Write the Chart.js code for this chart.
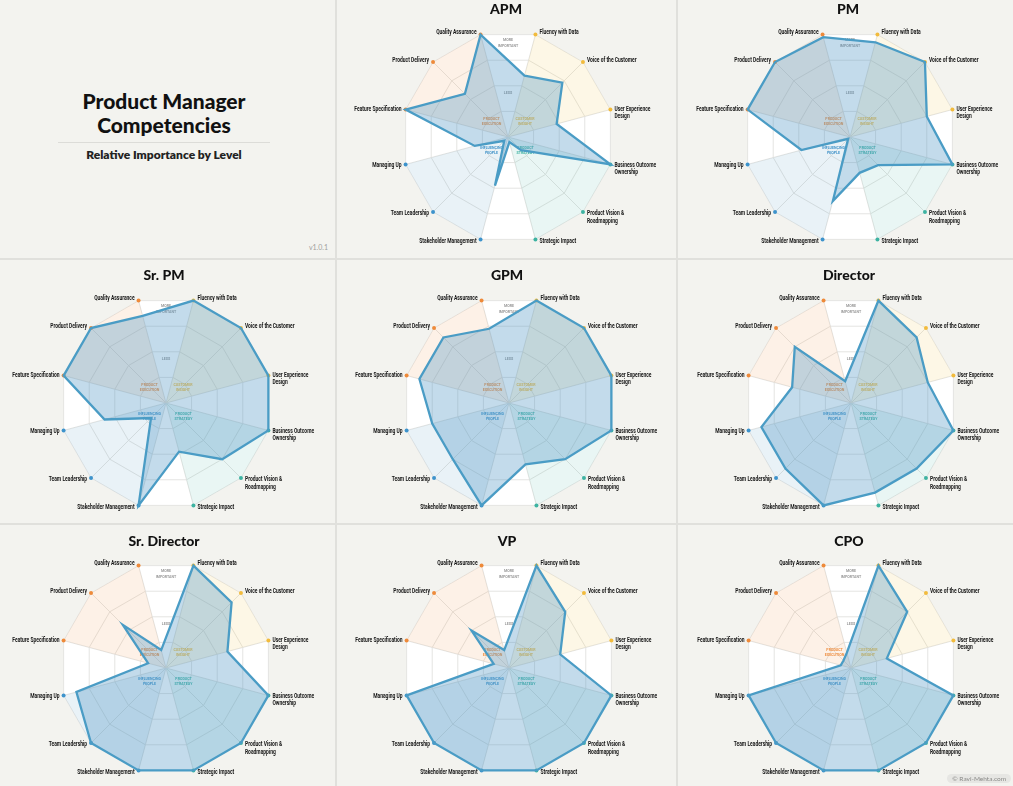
<!DOCTYPE html>
<html lang="en">
<head>
    <meta charset="UTF-8">
    <title>Product Manager Competencies</title>
    <script src="https://cdn.jsdelivr.net/npm/chart.js"></script>
</head>
<style>
    body {
        margin: 0;
        width: 1013px;
        height: 786px;
        overflow: hidden;
        background: #f3f3ef;
        font-family: Lato, Roboto, sans-serif;
        position: relative;
    }
    .line-v, .line-h {
        position: absolute;
        background: #e0e0dc;
    }
    .line-v { width: 2px; top: 0; height: 786px; }
    .line-h { height: 2px; left: 0; width: 1013px; }
    .intro {
        position: absolute;
        left: 0; top: 0; width: 336px; height: 258px;
        text-align: center;
    }
    .intro h1 {
        position: absolute;
        left: 0; width: 328px; top: 89px;
        margin: 0;
        font-size: 21px;
        line-height: 24px;
        font-weight: 900;
        color: #111;
    }
    .intro hr {
        position: absolute;
        left: 58px; width: 212px; top: 142px;
        margin: 0;
        border: none;
        border-top: 1px solid #dcdcd8;
    }
    .intro h2 {
        position: absolute;
        left: 0; width: 328px; top: 147px;
        margin: 0;
        font-size: 12px;
        font-weight: 800;
        color: #222;
    }
    .version {
        position: absolute;
        right: 8px; top: 243px;
        font-size: 7px;
        color: #a0a09c;
    }
    .level-title {
        position: absolute;
        width: 200px;
        margin-left: -100px;
        text-align: center;
        font-size: 14px;
        font-weight: 900;
        color: #111;
        z-index: 2;
    }
    canvas {
        position: absolute;
    }
    .credit {
        position: absolute;
        right: 2px; top: 774px;
        padding: 1px 5px;
        border-radius: 6px;
        background: #e6e6e3;
        color: #8a8a88;
        font-size: 6.5px;
        white-space: nowrap;
        z-index: 3;
    }
</style>
<body>
    <div class="line-v" style="left:335px"></div>
    <div class="line-v" style="left:676px"></div>
    <div class="line-h" style="top:258px"></div>
    <div class="line-h" style="top:523px"></div>

    <div class="intro">
        <h1>Product Manager<br>Competencies</h1>
        <hr>
        <h2>Relative Importance by Level</h2>
        <span class="version">v1.0.1</span>
    </div>
    <div id="charts"></div>
    <div class="credit">© Ravi-Mehta.com</div>

<script>
    // competencies, clockwise from the top (first one sits 15° right of vertical)
    const competencies = [
        'Fluency with Data', 'Voice of the Customer', 'User Experience Design',
        'Business Outcome Ownership', 'Product Vision & Roadmapping', 'Strategic Impact',
        'Stakeholder Management', 'Team Leadership', 'Managing Up',
        'Feature Specification', 'Product Delivery', 'Quality Assurance'
    ];
    const competencyLines = [
        ['Fluency with Data'], ['Voice of the Customer'], ['User Experience', 'Design'],
        ['Business Outcome', 'Ownership'], ['Product Vision &', 'Roadmapping'], ['Strategic Impact'],
        ['Stakeholder Management'], ['Team Leadership'], ['Managing Up'],
        ['Feature Specification'], ['Product Delivery'], ['Quality Assurance']
    ];
    const competencyGroups = [
        'insight', 'insight', 'insight',
        'strategy', 'strategy', 'strategy',
        'people', 'people', 'people',
        'execution', 'execution', 'execution'
    ];
    const groups = ['execution', 'insight', 'strategy', 'people'];
    const groupNames = [['PRODUCT', 'EXECUTION'], ['CUSTOMER', 'INSIGHT'], ['PRODUCT', 'STRATEGY'], ['INFLUENCING', 'PEOPLE']];
    const maxLevel = 4;

    const levels = ['APM', 'PM', 'Sr. PM', 'GPM', 'Director', 'Sr. Director', 'VP', 'CPO'];
    const apm         = [2.4, 2.9, 1.9, 4, 0.7, 0.2, 1.9, 0.2, 1.3, 4, 2.3, 4];
    const pm          = [3.7, 4, 3, 4, 1.5, 1.4, 2.5, 0.1, 1.9, 4, 4, 3.9];
    const srPm        = [4, 4, 4, 4, 3, 1.9, 4, 0.8, 2.4, 4, 4, 3.4];
    const gpm         = [4, 4, 4, 4, 3, 2.4, 4, 3, 3, 3.5, 3.5, 2.9];
    const director    = [4, 3.5, 3, 4, 3.5, 3.5, 4, 3.5, 3.5, 2.3, 3, 0.85];
    const srDirector  = [4, 3.5, 2.4, 4, 4, 4, 4, 4, 3.5, 0.7, 2.3, 0.7];
    const vp          = [4, 3, 2, 4, 4, 4, 4, 4, 4, 0.6, 2, 0.7];
    const cpo         = [4, 3, 1.4, 4, 4, 4, 4, 4, 4, 0.4, 0.4, 0.6];
    const levelValues = [apm, pm, srPm, gpm, director, srDirector, vp, cpo];

    // layout and look
    const chartCenters = [[508, 137], [850, 137], [166, 403], [509, 403], [851, 403], [166, 668], [509, 668], [851, 668]];
    const titleTops = [0, 0, 266, 266, 266, 532, 532, 532];
    const wedgeFill = {
        execution: 'rgba(246,170,110,0.17)',
        insight: 'rgba(245,208,105,0.17)',
        strategy: 'rgba(100,190,175,0.14)',
        people: 'rgba(110,165,200,0.15)'
    };
    const dotColor = { execution: '#ee8a3a', insight: '#f2bb3c', strategy: '#3db3a2', people: '#3d93cc' };
    const labelFont = 'bold 6.6px Roboto, sans-serif';
    const labelSquash = 0.75;
    const tinyFont = 'bold 4px Roboto, sans-serif';

    // draw text narrower than the font, like the condensed face in the original
    function narrowText(ctx, text, x, y, squash) {
        ctx.save();
        ctx.translate(x, y);
        ctx.scale(squash, 1);
        ctx.fillText(text, 0, 0);
        ctx.restore();
    }

    const competencyPlugin = {
        id: 'competency',
        beforeDraw(chart) {
            // white plot polygon under the grid
            const r = chart.scales.r, ctx = chart.ctx;
            ctx.save();
            ctx.beginPath();
            competencies.forEach(function(c, i) {
                const p = r.getPointPosition(i, r.getDistanceFromCenterForValue(maxLevel));
                if (i === 0) ctx.moveTo(p.x, p.y); else ctx.lineTo(p.x, p.y);
            });
            ctx.closePath();
            ctx.fillStyle = '#ffffff';
            ctx.fill();
            ctx.restore();
        },
        beforeDatasetsDraw(chart) {
            const r = chart.scales.r, ctx = chart.ctx;
            const k = r.drawingArea / 106;
            ctx.save();
            ctx.font = tinyFont;
            ctx.textAlign = 'center';
            ctx.textBaseline = 'middle';
            ctx.fillStyle = '#9a9a9a';
            const top = r.getDistanceFromCenterForValue(3.55);
            narrowText(ctx, 'MORE', r.xCenter, r.yCenter - top - 3, 0.9);
            narrowText(ctx, 'IMPORTANT', r.xCenter, r.yCenter - top + 3, 0.9);
            narrowText(ctx, 'LESS', r.xCenter, r.yCenter - r.getDistanceFromCenterForValue(1.65), 0.9);
            const offsets = [[-16.5, -15.5], [17, -15.5], [17.5, 13.5], [-16.5, 13.5]];
            groups.forEach(function(g, gi) {
                ctx.fillStyle = dotColor[g];
                const x = r.xCenter + offsets[gi][0] * k;
                const y = r.yCenter + offsets[gi][1] * k;
                narrowText(ctx, groupNames[gi][0], x, y - 2.6, 0.9);
                narrowText(ctx, groupNames[gi][1], x, y + 2.6, 0.9);
            });
            ctx.restore();
        },
        afterDraw(chart) {
            const r = chart.scales.r, ctx = chart.ctx;
            ctx.save();
            ctx.font = labelFont;
            ctx.fillStyle = '#141414';
            ctx.textBaseline = 'middle';
            const dist = r.getDistanceFromCenterForValue(maxLevel);
            competencyLines.forEach(function(lines, i) {
                const p = r.getPointPosition(i, dist);
                const deg = 15 + i * 30;
                const right = deg < 180;
                ctx.textAlign = right ? 'left' : 'right';
                const x = p.x + (right ? 4 : -4);
                const y = p.y - Math.cos(deg * Math.PI / 180) * 2.5;
                lines.forEach(function(t, li) {
                    narrowText(ctx, t, x, y + li * 7.6, labelSquash);
                });
            });
            ctx.restore();
        }
    };

    function createRadar(index) {
        const center = chartCenters[index];
        const canvas = document.createElement('canvas');
        canvas.width = 360;
        canvas.height = 250;
        canvas.style.left = (center[0] - 180) + 'px';
        canvas.style.top = (center[1] - 125) + 'px';
        document.getElementById('charts').appendChild(canvas);

        const title = document.createElement('div');
        title.className = 'level-title';
        title.textContent = levels[index];
        title.style.left = (center[0] - 2) + 'px';
        title.style.top = titleTops[index] + 'px';
        document.body.appendChild(title);

        const wedges = groups.map(function(g) {
            return {
                data: competencyGroups.map(function(x) { return x === g ? maxLevel : 0; }),
                order: 1,
                fill: true,
                borderWidth: 0,
                backgroundColor: wedgeFill[g],
                pointRadius: competencyGroups.map(function(x) { return x === g ? 2 : 0; }),
                pointBackgroundColor: dotColor[g],
                pointBorderWidth: 0
            };
        });

        new Chart(canvas, {
            type: 'radar',
            data: {
                labels: competencies,
                datasets: [{
                    label: levels[index],
                    data: levelValues[index],
                    order: 0,
                    fill: true,
                    borderColor: '#4a9cc5',
                    borderWidth: 2.3,
                    borderJoinStyle: 'miter',
                    backgroundColor: 'rgba(80,150,195,0.34)',
                    pointRadius: 0
                }].concat(wedges)
            },
            options: {
                responsive: false,
                animation: false,
                layout: { padding: { left: 74, right: 74, top: 19, bottom: 19 } },
                plugins: {
                    legend: { display: false },
                    tooltip: { enabled: false }
                },
                scales: {
                    r: {
                        min: 0,
                        max: maxLevel,
                        startAngle: 15,
                        ticks: { display: false, stepSize: 1 },
                        pointLabels: { display: false },
                        grid: { color: '#e4e4e2', lineWidth: 1 },
                        angleLines: { color: '#e4e4e2', lineWidth: 1 }
                    }
                }
            },
            plugins: [competencyPlugin]
        });
    }

    window.onload = function() {
        levels.forEach(function(l, i) { createRadar(i); });
    };
</script>
</body>
</html>
